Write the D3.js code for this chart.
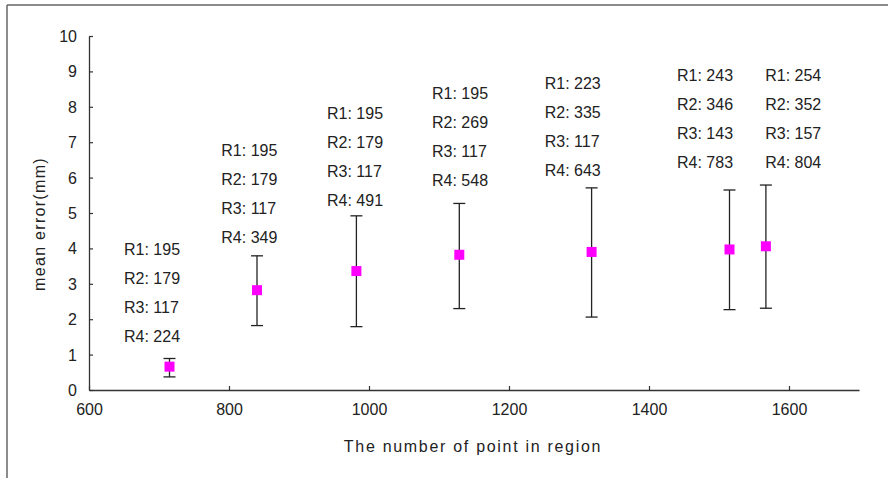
<!DOCTYPE html>
<html>
<head>
<meta charset="utf-8">
<script src="https://cdn.jsdelivr.net/npm/d3@7/dist/d3.min.js"></script>
<style>
  html, body { margin: 0; padding: 0; background: #fff; }
  svg { display: block; }
  text { font-family: "Liberation Sans", Arial, sans-serif; fill: #222; }
</style>
</head>
<body>
<svg id="chart" width="888" height="478"></svg>
<script>
// Region point counts (R1..R4) for each test case
const r1 = [195, 195, 195, 195, 223, 243, 254];
const r2 = [179, 179, 179, 269, 335, 346, 352];
const r3 = [117, 117, 117, 117, 117, 143, 157];
const r4 = [224, 349, 491, 548, 643, 783, 804];

// Mean error and its spread (mm)
const meanError = [0.66, 2.82, 3.36, 3.82, 3.90, 3.97, 4.06];
const errLow    = [0.37, 1.82, 1.79, 2.30, 2.06, 2.27, 2.31];
const errHigh   = [0.89, 3.79, 4.92, 5.27, 5.71, 5.65, 5.79];

// Where each annotation block sits, in data units (left edge, first line)
const labelX = [650, 789, 940, 1090, 1251, 1440, 1566];
const labelY = [3.98, 6.78, 7.82, 8.39, 8.67, 8.90, 8.90];

const xTicks = [600, 800, 1000, 1200, 1400, 1600];
const yTicks = [0, 1, 2, 3, 4, 5, 6, 7, 8, 9, 10];

const totals = r1.map((v, i) => v + r2[i] + r3[i] + r4[i]);
const data = totals.map((t, i) => ({
  total: t, mean: meanError[i], lo: errLow[i], hi: errHigh[i],
  lines: ["R1: " + r1[i], "R2: " + r2[i], "R3: " + r3[i], "R4: " + r4[i]],
  lx: labelX[i], ly: labelY[i]
}));

const svg = d3.select("#chart");

// outer frame (top and left edges)
svg.append("line").attr("x1", 7).attr("x2", 888).attr("y1", 5).attr("y2", 5)
  .attr("stroke", "#666").attr("stroke-width", 1.5);
svg.append("line").attr("x1", 7).attr("x2", 7).attr("y1", 5).attr("y2", 478)
  .attr("stroke", "#666").attr("stroke-width", 1.5);

const x = d3.scaleLinear().domain([600, 1700]).range([89, 859]);
const y = d3.scaleLinear().domain([0, 10]).range([390, 36]);

// axes with inward ticks
const xAxis = svg.append("g").attr("transform", "translate(0,390)")
  .call(d3.axisBottom(x).tickValues(xTicks).tickFormat(d3.format("d"))
    .tickSize(-4).tickPadding(14).tickSizeOuter(0));
const yAxis = svg.append("g").attr("transform", "translate(89,0)")
  .call(d3.axisLeft(y).tickValues(yTicks).tickFormat(d3.format("d"))
    .tickSize(-4).tickPadding(12).tickSizeOuter(0));

[xAxis, yAxis].forEach(g => {
  g.select(".domain").attr("stroke", "#333").attr("stroke-width", 1.3);
  g.selectAll(".tick line").attr("stroke", "#333").attr("stroke-width", 1.2);
  g.selectAll(".tick text").attr("font-size", 16).attr("fill", "#222")
    .style("font-family", "'Liberation Sans', Arial, sans-serif");
});
yAxis.selectAll(".tick text").attr("dy", "0.34em");

// axis titles
svg.append("text").attr("x", 473).attr("y", 452).attr("text-anchor", "middle")
  .attr("font-size", 16).attr("letter-spacing", 1.7)
  .text("The number of point in region");
svg.append("text").attr("transform", "translate(45,224) rotate(-90)")
  .attr("text-anchor", "middle").attr("font-size", 16).attr("letter-spacing", 1.3)
  .text("mean error(mm)");

// error bars
const bars = svg.append("g").attr("stroke", "#222").attr("stroke-width", 1.3);
bars.selectAll("line.stem").data(data).join("line").attr("class", "stem")
  .attr("x1", d => x(d.total)).attr("x2", d => x(d.total))
  .attr("y1", d => y(d.lo)).attr("y2", d => y(d.hi));
bars.selectAll("line.capHi").data(data).join("line").attr("class", "capHi")
  .attr("x1", d => x(d.total) - 6).attr("x2", d => x(d.total) + 6)
  .attr("y1", d => y(d.hi)).attr("y2", d => y(d.hi));
bars.selectAll("line.capLo").data(data).join("line").attr("class", "capLo")
  .attr("x1", d => x(d.total) - 6).attr("x2", d => x(d.total) + 6)
  .attr("y1", d => y(d.lo)).attr("y2", d => y(d.lo));

// mean markers
svg.append("g").selectAll("rect").data(data).join("rect")
  .attr("x", d => x(d.total) - 5).attr("y", d => y(d.mean) - 5)
  .attr("width", 10).attr("height", 10).attr("fill", "#ff00ff");

// annotation blocks
const blocks = svg.append("g").selectAll("text.blk").data(data).join("text")
  .attr("class", "blk").attr("font-size", 16);
blocks.selectAll("tspan").data(d => d.lines.map((t, k) => ({ t, k, d }))).join("tspan")
  .attr("x", o => x(o.d.lx))
  .attr("y", o => y(o.d.ly) + o.k * 29)
  .attr("dy", "0.35em")
  .text(o => o.t);
</script>
</body>
</html>
